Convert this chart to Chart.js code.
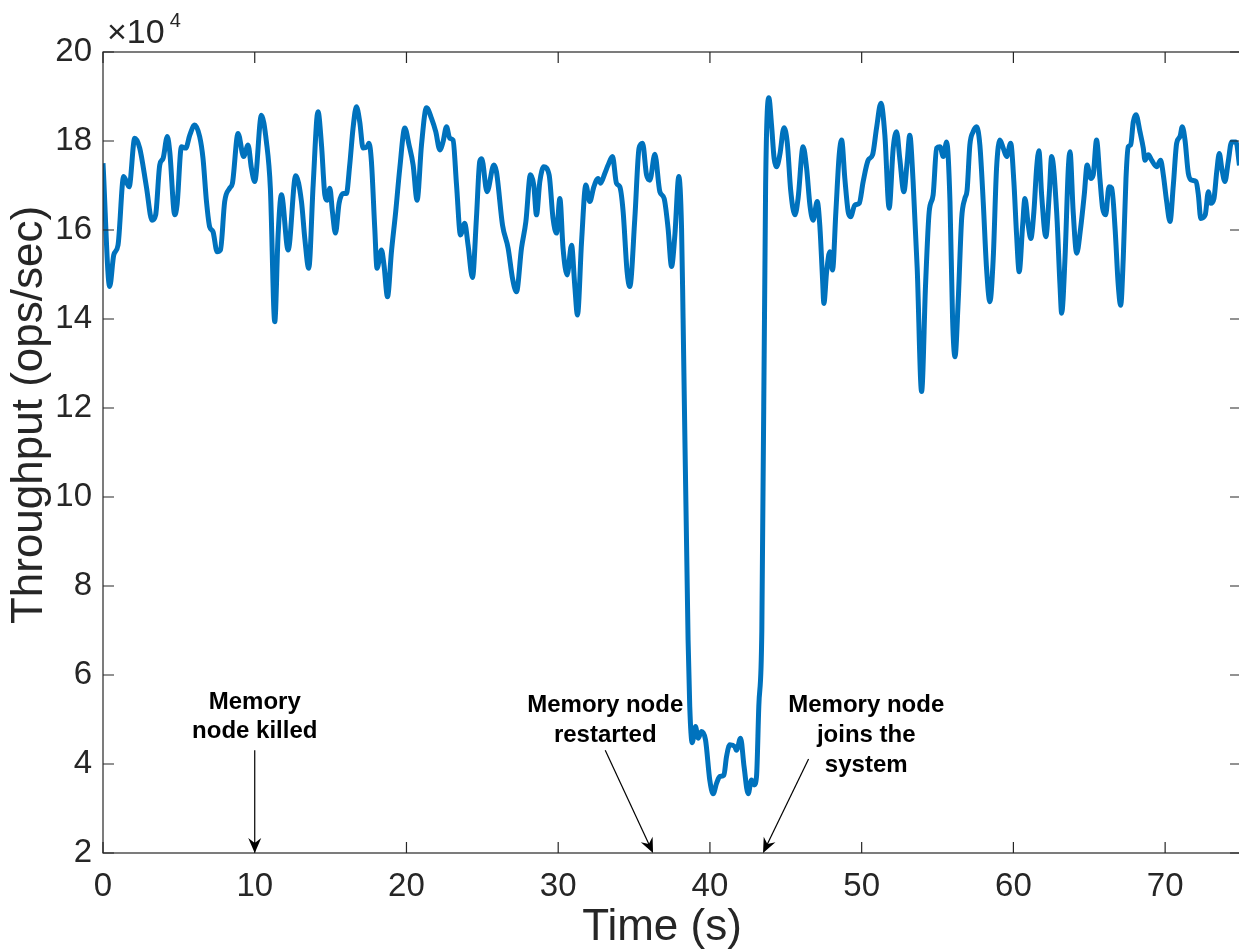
<!DOCTYPE html>
<html>
<head>
<meta charset="utf-8">
<script src="https://cdn.jsdelivr.net/npm/chart.js@4.4.1/dist/chart.umd.min.js"></script>
<style>
  html, body { margin: 0; padding: 0; background: #fff; overflow: hidden; }
  canvas { display: block; }
</style>
</head>
<body>
<canvas id="throughput-chart" width="1245" height="951"></canvas>
<script>
// time stamps (s) and throughput (x 10^4 ops/sec), ten samples per row
var timeSec = [
  0.00, 0.44, 0.71, 0.99, 1.36, 1.72, 2.09, 2.42, 2.86, 3.23,
  3.47, 3.74, 3.96, 4.24, 4.40, 4.73, 4.88, 5.17, 5.45, 5.72,
  6.04, 6.37, 6.59, 6.82, 7.03, 7.25, 7.52, 7.74, 8.02, 8.35,
  8.53, 8.90, 9.27, 9.56, 9.78, 10.00, 10.44, 10.77, 11.03, 11.32,
  11.54, 11.76, 12.20, 12.70, 13.08, 13.30, 13.56, 13.85, 14.17, 14.40,
  14.62, 14.77, 14.95, 15.12, 15.32, 15.56, 15.82, 16.04, 16.26, 16.48,
  16.70, 16.92, 17.14, 17.40, 17.53, 17.69, 17.91, 18.06, 18.35, 18.52,
  18.75, 19.01, 19.29, 19.56, 19.89, 20.17, 20.44, 20.70, 20.99, 21.32,
  21.65, 21.93, 22.20, 22.41, 22.64, 22.85, 23.07, 23.30, 23.56, 23.84,
  24.06, 24.35, 24.61, 24.83, 24.96, 25.31, 25.76, 25.93, 26.33, 26.70,
  26.99, 27.25, 27.58, 27.87, 28.17, 28.39, 28.57, 28.79, 29.05, 29.40,
  29.66, 29.89, 30.11, 30.32, 30.59, 30.88, 31.09, 31.27, 31.54, 31.82,
  32.08, 32.35, 32.63, 32.79, 33.07, 33.29, 33.58, 33.84, 34.06, 34.28,
  34.54, 34.72, 35.05, 35.33, 35.56, 35.82, 36.04, 36.37, 36.70, 36.98,
  37.24, 37.47, 37.69, 37.95, 38.13, 38.23, 38.56, 38.67, 38.83, 39.05,
  39.22, 39.45, 39.71, 39.99, 40.21, 40.44, 40.65, 40.92, 41.09, 41.31,
  41.64, 41.75, 42.02, 42.25, 42.52, 42.74, 42.91, 43.07, 43.22, 43.42,
  43.67, 43.88, 44.06, 44.23, 44.39, 44.61, 44.88, 45.10, 45.32, 45.60,
  45.81, 46.14, 46.37, 46.59, 46.80, 47.07, 47.24, 47.42, 47.51, 47.69,
  47.90, 48.08, 48.30, 48.52, 48.68, 48.89, 49.11, 49.27, 49.55, 49.84,
  50.10, 50.43, 50.72, 50.98, 51.27, 51.53, 51.81, 52.08, 52.30, 52.51,
  52.78, 53.00, 53.17, 53.39, 53.66, 53.95, 54.21, 54.45, 54.71, 54.94,
  55.16, 55.38, 55.60, 55.82, 55.99, 56.15, 56.36, 56.59, 56.80, 56.95,
  57.13, 57.35, 57.57, 57.79, 58.01, 58.23, 58.45, 58.67, 58.89, 59.11,
  59.33, 59.55, 59.82, 60.03, 60.21, 60.38, 60.61, 60.76, 60.98, 61.15,
  61.35, 61.53, 61.68, 61.86, 62.14, 62.36, 62.52, 62.85, 63.07, 63.18,
  63.40, 63.62, 63.73, 63.94, 64.17, 64.43, 64.67, 64.86, 65.09, 65.26,
  65.48, 65.70, 65.88, 66.08, 66.30, 66.48, 66.70, 66.91, 67.07, 67.24,
  67.42, 67.57, 67.73, 67.90, 68.08, 68.34, 68.56, 68.67, 68.89, 69.11,
  69.44, 69.70, 69.88, 70.10, 70.32, 70.54, 70.76, 70.98, 71.13, 71.31,
  71.53, 71.76, 72.04, 72.19, 72.35, 72.64, 72.85, 73.01, 73.22, 73.40,
  73.57, 73.73, 73.94, 74.16, 74.38, 74.67, 74.90
];
var throughput = [
  17.50, 14.73, 15.44, 15.66, 17.20, 16.97, 18.06, 17.84, 16.97, 16.22,
  16.34, 17.46, 17.61, 18.10, 17.76, 16.34, 16.56, 17.87, 17.84, 18.13,
  18.36, 18.10, 17.61, 16.64, 16.07, 15.96, 15.51, 15.55, 16.64, 16.94,
  17.05, 18.17, 17.65, 17.91, 17.39, 17.09, 18.58, 17.98, 16.94, 13.94,
  15.89, 16.79, 15.55, 17.22, 16.64, 15.81, 15.14, 17.01, 18.66, 17.91,
  16.79, 16.67, 16.94, 16.41, 15.93, 16.60, 16.82, 16.82, 17.46, 18.29,
  18.77, 18.43, 17.84, 17.87, 17.95, 17.54, 16.04, 15.14, 15.55, 15.21,
  14.50, 15.51, 16.41, 17.39, 18.29, 17.91, 17.46, 16.67, 17.91, 18.75,
  18.51, 18.21, 17.80, 17.98, 18.32, 18.06, 18.02, 17.01, 15.89, 16.15,
  15.66, 14.93, 16.26, 17.54, 17.60, 16.86, 17.46, 17.31, 16.11, 15.59,
  14.91, 14.61, 15.59, 16.19, 17.24, 17.01, 16.34, 17.09, 17.42, 17.24,
  16.26, 15.93, 16.71, 15.59, 14.99, 15.66, 14.76, 14.09, 15.74, 17.01,
  16.64, 16.97, 17.16, 17.05, 17.27, 17.46, 17.65, 17.05, 16.97, 16.41,
  15.06, 14.73, 16.26, 17.84, 17.95, 17.24, 17.12, 17.70, 16.86, 16.71,
  16.04, 15.18, 15.89, 17.20, 16.04, 14.02, 6.79, 5.29, 4.48, 4.84,
  4.58, 4.73, 4.54, 3.64, 3.33, 3.57, 3.72, 3.75, 4.16, 4.43,
  4.39, 4.31, 4.58, 3.94, 3.33, 3.64, 3.53, 3.72, 5.29, 7.00,
  17.01, 18.97, 18.36, 17.61, 17.42, 17.70, 18.30, 17.95, 16.90, 16.34,
  16.71, 17.87, 17.39, 16.56, 16.22, 16.64, 16.11, 14.91, 14.35, 15.06,
  15.51, 15.10, 16.41, 17.69, 18.02, 17.16, 16.41, 16.30, 16.56, 16.60,
  17.09, 17.57, 17.69, 18.29, 18.85, 18.13, 16.49, 17.84, 18.21, 17.61,
  16.86, 17.54, 18.13, 17.09, 15.14, 12.37, 14.76, 16.41, 16.79, 17.84,
  17.87, 17.65, 17.98, 16.64, 14.02, 13.15, 14.39, 16.26, 16.71, 16.90,
  17.91, 18.21, 18.32, 17.91, 16.64, 15.14, 14.39, 15.36, 17.39, 18.02,
  17.84, 17.65, 17.95, 17.09, 15.89, 15.06, 16.11, 16.71, 16.11, 15.81,
  16.41, 17.39, 17.78, 16.79, 15.85, 16.79, 17.65, 16.41, 14.76, 14.13,
  15.36, 17.39, 17.76, 16.41, 15.48, 16.04, 16.79, 17.46, 17.16, 17.24,
  18.02, 17.16, 16.49, 16.34, 16.97, 16.94, 16.04, 14.76, 14.31, 15.36,
  17.16, 17.87, 17.91, 18.43, 18.59, 18.21, 17.84, 17.57, 17.69, 17.57,
  17.42, 17.57, 17.24, 16.64, 16.19, 17.01, 17.95, 18.10, 18.32, 18.02,
  17.27, 17.12, 17.09, 16.79, 16.26, 16.34, 16.86, 16.60, 16.71, 17.31,
  17.72, 17.39, 17.09, 17.54, 17.98, 17.98, 17.45
];
var xTicks = [0, 10, 20, 30, 40, 50, 60, 70];
var yTicks = [2, 4, 6, 8, 10, 12, 14, 16, 18, 20];

// event notes: text lines and arrows, in axis units
var notes = [
  { lines: ['Memory', 'node killed'], x: 10, y: [5.23, 4.58], from: [10, 4.31], to: [10, 2] },
  { lines: ['Memory node', 'restarted'], x: 33.1, y: [5.17, 4.49], from: [33.1, 4.31], to: [36.25, 2] },
  { lines: ['Memory node', 'joins the', 'system'], x: 50.3, y: [5.17, 4.49, 3.82], from: [46.5, 4.11], to: [43.5, 2] }
];

var FONT = '"Liberation Sans", Arial, Helvetica, sans-serif';
var AXIS_COLOR = '#262626';
Chart.defaults.font.family = FONT;

function drawArrow(ctx, x0, y0, x1, y1) {
  var ang = Math.atan2(y1 - y0, x1 - x0);
  var len = 15, half = 6.5, notch = 10;
  ctx.beginPath();
  ctx.moveTo(x0, y0);
  ctx.lineTo(x1 - Math.cos(ang) * notch, y1 - Math.sin(ang) * notch);
  ctx.stroke();
  ctx.save();
  ctx.translate(x1, y1);
  ctx.rotate(ang);
  ctx.beginPath();
  ctx.moveTo(0, 0);
  ctx.lineTo(-len, -half);
  ctx.lineTo(-notch, 0);
  ctx.lineTo(-len, half);
  ctx.closePath();
  ctx.fill();
  ctx.restore();
}

// box, inward ticks on all four sides, axis labels, exponent label and notes
var matlabAxes = {
  id: 'matlabAxes',
  afterDraw: function(chart) {
    var ctx = chart.ctx, a = chart.chartArea;
    var xs = chart.scales.x, ys = chart.scales.y;
    var tick = 11;
    ctx.save();
    ctx.strokeStyle = AXIS_COLOR;
    ctx.lineWidth = 1.2;
    ctx.strokeRect(a.left, a.top, a.right - a.left, a.bottom - a.top);
    ctx.beginPath();
    xs.ticks.forEach(function(t) {
      var px = xs.getPixelForValue(t.value);
      ctx.moveTo(px, a.bottom); ctx.lineTo(px, a.bottom - tick);
      ctx.moveTo(px, a.top); ctx.lineTo(px, a.top + tick);
    });
    ys.ticks.forEach(function(t) {
      var py = ys.getPixelForValue(t.value);
      ctx.moveTo(a.left, py); ctx.lineTo(a.left + tick, py);
      ctx.moveTo(a.right, py); ctx.lineTo(a.right - tick, py);
    });
    ctx.stroke();

    ctx.fillStyle = AXIS_COLOR;
    ctx.textBaseline = 'alphabetic';
    ctx.font = '44px ' + FONT;
    ctx.textAlign = 'center';

    // axis labels
    ctx.fillText('Time (s)', 662, 940);
    ctx.save();
    ctx.translate(42, 415);
    ctx.rotate(-Math.PI / 2);
    ctx.fillText('Throughput (ops/sec)', 0, 0);
    ctx.restore();

    // x10^4 multiplier above the y axis
    ctx.textAlign = 'left';
    ctx.font = '34px ' + FONT;
    ctx.fillText('\u00d710', a.left + 4, a.top - 9);
    var w = ctx.measureText('\u00d710').width;
    ctx.font = '20px ' + FONT;
    ctx.fillText('4', a.left + 9 + w, a.top - 25);

    // notes
    ctx.fillStyle = '#000';
    ctx.strokeStyle = '#000';
    ctx.lineWidth = 1.2;
    ctx.textAlign = 'center';
    ctx.font = 'bold 24px ' + FONT;
    notes.forEach(function(n) {
      n.lines.forEach(function(line, i) {
        ctx.fillText(line, xs.getPixelForValue(n.x), ys.getPixelForValue(n.y[i]));
      });
      drawArrow(ctx,
        xs.getPixelForValue(n.from[0]), ys.getPixelForValue(n.from[1]),
        xs.getPixelForValue(n.to[0]), ys.getPixelForValue(n.to[1]));
    });
    ctx.restore();
  }
};

var points = timeSec.map(function(t, i) { return { x: t, y: throughput[i] }; });

new Chart(document.getElementById('throughput-chart'), {
  type: 'line',
  data: {
    datasets: [{
      data: points,
      borderColor: '#0072BD',
      borderWidth: 5,
      pointRadius: 0,
      fill: false,
      cubicInterpolationMode: 'monotone'
    }]
  },
  options: {
    responsive: false,
    animation: false,
    layout: { padding: { top: 52, right: 4, left: 0, bottom: 0 } },
    plugins: { legend: { display: false }, tooltip: { enabled: false } },
    scales: {
      x: {
        type: 'linear',
        min: 0,
        max: 75,
        afterBuildTicks: function(s) { s.ticks = xTicks.map(function(v) { return { value: v }; }); },
        afterFit: function(s) { s.height = 98; },
        grid: { display: false },
        border: { display: false },
        ticks: { color: AXIS_COLOR, font: { size: 33 }, padding: 6, maxRotation: 0 }
      },
      y: {
        type: 'linear',
        min: 2,
        max: 20,
        afterBuildTicks: function(s) { s.ticks = yTicks.map(function(v) { return { value: v }; }); },
        afterFit: function(s) { s.width = 103; },
        grid: { display: false },
        border: { display: false },
        ticks: { color: AXIS_COLOR, font: { size: 33 }, padding: 3 }
      }
    }
  },
  plugins: [matlabAxes]
});
</script>
</body>
</html>
